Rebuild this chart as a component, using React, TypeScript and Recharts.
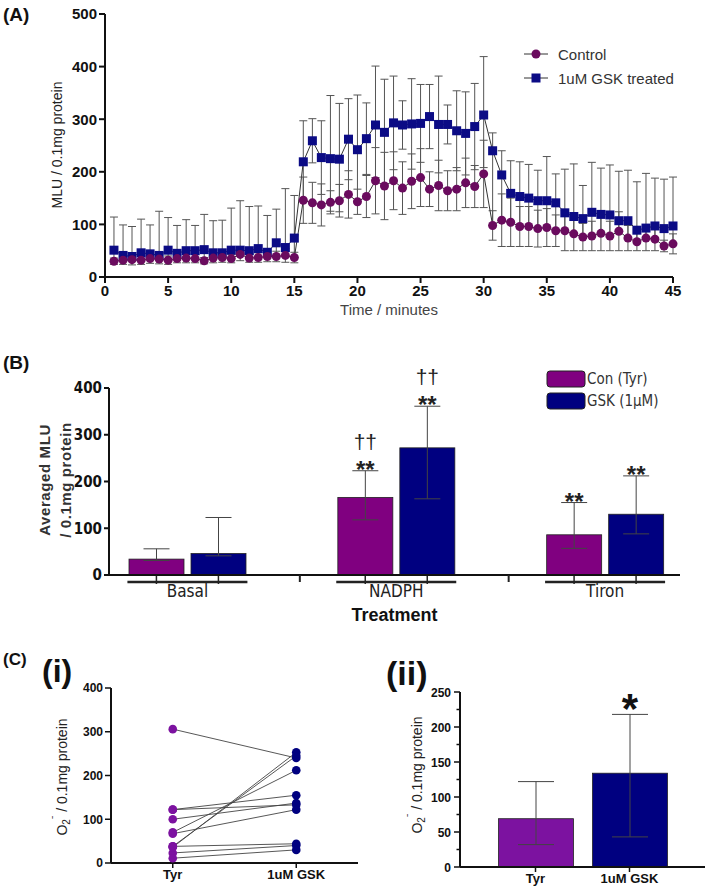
import React from 'react';
import { LineChart, Line, XAxis, YAxis, ErrorBar, Legend, BarChart, Bar } from 'recharts';

const SANS = "'Liberation Sans', Arial, Helvetica, sans-serif";
const NARROW = "'Liberation Sans Narrow', 'DejaVu Sans Condensed', 'Liberation Sans', Arial, sans-serif";

// ---------- Panel A data ----------
const timeMin = [0.71,1.43,2.14,2.86,3.57,4.29,5.00,5.71,6.43,7.14,7.86,8.57,9.29,10.00,10.71,11.43,12.14,12.86,13.57,14.29,15.00,
  15.71,16.43,17.14,17.86,18.57,19.29,20.00,20.71,21.43,22.14,22.86,23.57,24.29,25.00,25.71,26.43,27.14,27.86,28.57,29.29,30.00,
  30.71,31.43,32.14,32.86,33.57,34.29,35.00,35.71,36.43,37.14,37.86,38.57,39.29,40.00,40.71,41.43,42.14,42.86,43.57,44.29,45.00];
const controlMLU = [30,32,33,32,35,34,32,35,36,35,31,36,37,35,43,36,37,39,39,41,37,
  146,141,137,142,145,157,143,153,183,173,183,169,182,189,167,174,164,167,179,172,196,
  98,108,104,96,96,92,94,88,88,82,76,78,83,78,87,74,67,74,72,59,63];
const controlErr = [6,8,10,8,9,9,8,8,9,8,6,9,9,8,12,8,9,10,10,13,10,
  44,39,40,22,31,45,24,40,63,64,55,50,52,55,33,48,38,41,47,40,64,
  28,50,46,38,38,35,36,30,38,32,26,28,33,28,37,24,17,24,22,11,19];
const gskMLU = [51,41,39,46,44,41,51,45,50,50,52,46,46,51,51,50,54,47,65,56,74,
  219,259,227,225,224,262,242,263,289,275,293,289,291,292,305,290,290,278,273,286,308,
  240,194,159,153,150,145,145,141,122,115,111,123,119,118,107,107,89,93,97,92,97];
const gskErrHigh = [63,58,57,64,55,84,62,53,59,48,67,61,62,80,94,84,81,70,64,112,81,
  78,42,70,120,106,77,104,68,112,101,89,46,86,74,61,92,37,76,79,82,111,
  34,46,62,66,64,58,84,55,83,100,63,95,88,95,94,96,92,104,91,94,93];
const gskErrLow = [21,9,6,14,9,7,19,10,14,15,21,10,9,16,8,14,17,8,26,15,37,
  73,42,70,100,100,77,99,68,100,100,89,46,86,74,61,92,37,76,79,82,100,
  142,86,55,57,54,53,51,53,34,33,35,45,36,40,20,33,22,19,25,33,34];
const timeTicks = [0,5,10,15,20,25,30,35,40,45];
const mluTicks = [0,100,200,300,400,500];
const seriesNamesA = ['Control', '1uM GSK treated'];

// ---------- Panel B data ----------
const treatments = ['Basal', 'NADPH', 'Tiron'];
const conTyrMean = [34, 166, 86];
const conTyrErrLow = [3, 48, 29];
const conTyrErrHigh = [22, 57, 69];
const gskMean = [46, 272, 130];
const gskErrLowB = [5, 109, 42];
const gskErrHighB = [77, 89, 82];
const conStars = ['', '**', '**'];
const conDaggers = ['', '\u2020\u2020', ''];
const gskStars = ['', '**', '**'];
const gskDaggers = ['', '\u2020\u2020', ''];
const avgTicks = [0,100,200,300,400];
const seriesNamesB = ['Con (Tyr)', 'GSK (1\u00b5M)'];

// ---------- Panel C(i) data ----------
const pairGroups = ['Tyr', '1uM GSK'];
const pairTyr = [306, 38, 70, 122, 122, 100, 67, 38, 23, 11, 36];
const pairGsk = [240, 245, 212, 155, 133, 137, 122, 44, 40, 30, 253];
const pairTicks = [0,100,200,300,400];

// ---------- Panel C(ii) data ----------
const summaryGroups = ['Tyr', '1uM GSK'];
const summaryValue = [69, 134];
const summaryErrLow = [37, 91];
const summaryErrHigh = [53, 84];
const summaryMarks = ['', '*'];
const summaryTicks = [0,25,50,75,100,125,150,175,200,225,250];

// colours
const C_CONTROL = '#6a0b5e';
const C_GSK = '#0b0b85';
const C_PURPLE = '#800080';
const C_NAVY = '#000080';
const C_PURPLE2 = '#7c12a0';
const summaryFills = [C_PURPLE2, C_NAVY];

const timeData = timeMin.map((t, i) => ({
  t,
  control: controlMLU[i],
  controlErr: controlErr[i],
  gsk: gskMLU[i],
  gskErr: [gskErrLow[i], gskErrHigh[i]],
}));

const treatData = treatments.map((name, i) => ({
  name,
  con: conTyrMean[i],
  conErr: [conTyrErrLow[i], conTyrErrHigh[i]],
  conS: conStars[i],
  conD: conDaggers[i],
  conHi: conTyrErrHigh[i],
  gsk: gskMean[i],
  gskErr: [gskErrLowB[i], gskErrHighB[i]],
  gskS: gskStars[i],
  gskD: gskDaggers[i],
  gskHi: gskErrHighB[i],
}));

const pairData = pairGroups.map((g, gi) => {
  const row: any = { pos: gi + 1 };
  const src = gi === 0 ? pairTyr : pairGsk;
  src.forEach((v, i) => { row['p' + i] = v; });
  return row;
});

const summaryData = summaryGroups.map((name, i) => ({
  name,
  idx: i,
  value: summaryValue[i],
  err: [summaryErrLow[i], summaryErrHigh[i]],
  mark: summaryMarks[i],
  hi: summaryErrHigh[i],
}));

const axisStroke = { stroke: '#111', strokeWidth: 2 };

function LegendA() {
  return (
    <div style={{ fontFamily: SANS, fontSize: 15, color: '#333' }}>
      {seriesNamesA.map((n, i) => (
        <div key={n} style={{ display: 'flex', alignItems: 'center', height: 24 }}>
          <svg width={28} height={24} style={{ display: 'block' }}>
            <line x1={2} x2={26} y1={12} y2={12} stroke="#333" strokeWidth={1} />
            {i === 0 ? <circle cx={14} cy={12} r={4.5} fill={C_CONTROL} /> : <rect x={9.5} y={7.5} width={9} height={9} fill={C_GSK} />}
          </svg>
          <span style={{ marginLeft: 8, whiteSpace: 'nowrap' }}>{n}</span>
        </div>
      ))}
    </div>
  );
}

function LegendB() {
  return (
    <div style={{ fontFamily: NARROW, fontSize: 15, color: '#333' }}>
      {seriesNamesB.map((n, i) => (
        <div key={n} style={{ display: 'flex', alignItems: 'center', height: 22 }}>
          <svg width={40} height={22} style={{ display: 'block' }}>
            <rect x={1} y={3} width={38} height={16} rx={3} fill={i === 0 ? C_PURPLE : C_NAVY} stroke="#222" strokeWidth={1} />
          </svg>
          <span style={{ marginLeft: 1, whiteSpace: 'nowrap' }}>{n}</span>
        </div>
      ))}
    </div>
  );
}

function TreatTick(props: any) {
  const { x, y, payload, index } = props;
  const half = payload && payload.offset ? payload.offset : 104;
  return (
    <g>
      <line x1={x - 60} x2={x + 60} y1={y + 7} y2={y + 7} stroke="#222" strokeWidth={2.5} />
      <line x1={x - 31} x2={x - 31} y1={y + 1} y2={y + 9} stroke="#222" strokeWidth={1.5} />
      <line x1={x + 31} x2={x + 31} y1={y + 1} y2={y + 9} stroke="#222" strokeWidth={1.5} />
      {index < treatments.length - 1 ? (
        <line x1={x + half + 8} x2={x + half + 8} y1={y} y2={y + 7} stroke="#222" strokeWidth={2} />
      ) : null}
      <text x={x} y={y + 22} textAnchor="middle" fontFamily={NARROW} fontSize={17} fill="#222">{payload.value}</text>
    </g>
  );
}

const makeBarShape = (valKey: string, hiKey: string, sKey: string, dKey: string) => (p: any) => {
  const { x, y, width, height, fill, payload } = p;
  const v = payload[valKey];
  const ppu = v ? height / v : 0;
  const capY = y - payload[hiKey] * ppu;
  const cx = x + width / 2;
  return (
    <g>
      <rect x={x} y={y} width={width} height={height} fill={fill} stroke="#222" strokeWidth={0.8} />
      {payload[sKey] ? (
        <text x={cx} y={capY + 7} textAnchor="middle" fontFamily={SANS} fontWeight="bold" fontSize={24} fill="#222">{payload[sKey]}</text>
      ) : null}
      {payload[dKey] ? (
        <text x={cx} y={capY - 22} textAnchor="middle" fontFamily={SANS} fontSize={21} fill="#222">{payload[dKey]}</text>
      ) : null}
    </g>
  );
};

const summaryShape = (p: any) => {
  const { x, y, width, height, payload } = p;
  const ppu = payload.value ? height / payload.value : 0;
  const capY = y - payload.hi * ppu;
  return (
    <g>
      <rect x={x} y={y} width={width} height={height} fill={summaryFills[payload.idx]} stroke="#222" strokeWidth={0.8} />
      {payload.mark ? (
        <text x={x + width / 2} y={capY + 9} textAnchor="middle" fontFamily={SANS} fontWeight="bold" fontSize={42} fill="#111">{payload.mark}</text>
      ) : null}
    </g>
  );
};

function SummaryYTick(props: any) {
  const { x, y, payload } = props;
  const major = payload.value % 50 === 0;
  return (
    <g>
      <line x1={x} x2={x - (major ? 6 : 3.5)} y1={y} y2={y} stroke="#111" strokeWidth={1.5} />
      {major ? (
        <text x={x - 9} y={y} dy={4.5} textAnchor="end" fontFamily={SANS} fontWeight="bold" fontSize={12} fill="#111">{payload.value}</text>
      ) : null}
    </g>
  );
}

const pairDot = (key: string) => (p: any) => {
  const { cx, cy, payload, index } = p;
  if (cx == null || cy == null) return <g key={key + '-' + index} />;
  return <circle key={key + '-' + index} cx={cx} cy={cy} r={4.3} fill={payload.pos === 1 ? C_PURPLE2 : C_NAVY} />;
};

export default function App() {
  return (
    <div style={{ position: 'absolute', left: 0, top: 0, width: 709, height: 893, background: '#fff', overflow: 'hidden' }}>
      {/* Panel A */}
      <div style={{ position: 'absolute', left: 0, top: 0 }}>
        <LineChart width={709} height={325} data={timeData} margin={{ top: 14, right: 36, bottom: 3, left: 45 }}>
          <XAxis type="number" dataKey="t" domain={[0, 45]} ticks={timeTicks} interval={0} height={45}
            axisLine={axisStroke} tickLine={axisStroke} tickSize={6}
            tick={{ fill: '#111', fontSize: 15, fontWeight: 'bold', fontFamily: SANS }}
            label={{ value: 'Time / minutes', position: 'insideBottom', offset: 7, fill: '#444', fontSize: 15, fontFamily: SANS }} />
          <YAxis type="number" domain={[0, 500]} ticks={mluTicks} interval={0} width={60}
            axisLine={axisStroke} tickLine={axisStroke} tickSize={6}
            tick={{ fill: '#111', fontSize: 15, fontWeight: 'bold', fontFamily: SANS }} />
          <Line type="linear" dataKey="gsk" name={seriesNamesA[1]} stroke="#333" strokeWidth={1} isAnimationActive={false}
            dot={(p: any) => <rect key={'g' + p.index} x={p.cx - 4.5} y={p.cy - 4.5} width={9} height={9} fill={C_GSK} />}>
            <ErrorBar dataKey="gskErr" width={4} stroke="#555" strokeWidth={1} direction="y" />
          </Line>
          <Line type="linear" dataKey="control" name={seriesNamesA[0]} stroke="#333" strokeWidth={1} isAnimationActive={false}
            dot={(p: any) => <circle key={'c' + p.index} cx={p.cx} cy={p.cy} r={4.5} fill={C_CONTROL} />}>
            <ErrorBar dataKey="controlErr" width={4} stroke="#555" strokeWidth={1} direction="y" />
          </Line>
          <Legend layout="vertical" align="center" verticalAlign="middle" content={() => <LegendA />}
            wrapperStyle={{ left: 522, top: 42, width: 187, height: 48 }} />
        </LineChart>
      </div>

      {/* Panel B */}
      <div style={{ position: 'absolute', left: 0, top: 340 }}>
        <BarChart width={709} height={290} data={treatData} margin={{ top: 48, right: 29, bottom: 5, left: 59 }} barSize={55} barGap={7}>
          <XAxis dataKey="name" padding={{ left: -26, right: -29.5 }} height={50} tickSize={0} tickMargin={0} tickLine={false}
            axisLine={axisStroke} tick={<TreatTick />} interval={0}
            label={{ value: 'Treatment', position: 'insideBottom', offset: 4, fill: '#111', fontSize: 18, fontWeight: 'bold', fontFamily: SANS }} />
          <YAxis type="number" domain={[0, 400]} ticks={avgTicks} interval={0} width={50}
            axisLine={axisStroke} tickLine={axisStroke} tickSize={5}
            tick={{ fill: '#111', fontSize: 15, fontWeight: 'bold', fontFamily: NARROW }} />
          <Bar dataKey="con" name={seriesNamesB[0]} fill={C_PURPLE} isAnimationActive={false} shape={makeBarShape('con', 'conHi', 'conS', 'conD')}>
            <ErrorBar dataKey="conErr" width={13} stroke="#444" strokeWidth={1} direction="y" />
          </Bar>
          <Bar dataKey="gsk" name={seriesNamesB[1]} fill={C_NAVY} isAnimationActive={false} shape={makeBarShape('gsk', 'gskHi', 'gskS', 'gskD')}>
            <ErrorBar dataKey="gskErr" width={13} stroke="#444" strokeWidth={1} direction="y" />
          </Bar>
          <Legend layout="vertical" align="center" verticalAlign="middle" content={() => <LegendB />}
            wrapperStyle={{ left: 546, top: 28, width: 160, height: 44 }} />
        </BarChart>
      </div>

      {/* Panel C(i) */}
      <div style={{ position: 'absolute', left: 0, top: 640 }}>
        <LineChart width={370} height={253} data={pairData} margin={{ top: 48, right: 12, bottom: 2, left: 61 }}>
          <XAxis type="number" dataKey="pos" domain={[0.5, 2.5]} ticks={[1, 2]} interval={0} height={28}
            tickFormatter={(v: number) => pairGroups[v - 1]}
            axisLine={axisStroke} tickLine={{ stroke: '#111', strokeWidth: 1.5 }} tickSize={5}
            tick={{ fill: '#111', fontSize: 13, fontWeight: 'bold', fontFamily: SANS }} />
          <YAxis type="number" domain={[0, 400]} ticks={pairTicks} interval={0} width={50}
            axisLine={axisStroke} tickLine={{ stroke: '#111', strokeWidth: 1.5 }} tickSize={6}
            tick={{ fill: '#111', fontSize: 12, fontWeight: 'bold', fontFamily: SANS }} />
          {pairTyr.map((_, i) => (
            <Line key={'p' + i} type="linear" dataKey={'p' + i} stroke="#444" strokeWidth={0.9}
              isAnimationActive={false} dot={pairDot('p' + i)} />
          ))}
        </LineChart>
      </div>

      {/* Panel C(ii) */}
      <div style={{ position: 'absolute', left: 360, top: 640 }}>
        <BarChart width={349} height={253} data={summaryData} margin={{ top: 52, right: 4, bottom: 2, left: 50 }} barSize={75}>
          <XAxis dataKey="name" padding={{ left: 28.5, right: 28.5 }} height={24} interval={0}
            axisLine={axisStroke} tickLine={{ stroke: '#111', strokeWidth: 1.5 }} tickSize={5}
            tick={{ fill: '#111', fontSize: 13, fontWeight: 'bold', fontFamily: SANS }} />
          <YAxis type="number" domain={[0, 250]} ticks={summaryTicks} interval={0} width={50}
            axisLine={axisStroke} tickLine={false} tickSize={0} tickMargin={0} tick={<SummaryYTick />} />
          <Bar dataKey="value" isAnimationActive={false} shape={summaryShape} fill={C_PURPLE2}>
            <ErrorBar dataKey="err" width={18} stroke="#444" strokeWidth={1} direction="y" />
          </Bar>
        </BarChart>
      </div>

      {/* Free text: panel letters and axis titles */}
      <svg width={709} height={893} style={{ position: 'absolute', left: 0, top: 0, pointerEvents: 'none' }}>
        <text x={3} y={21} fontFamily={SANS} fontWeight="bold" fontSize={19} fill="#111">(A)</text>
        <text transform="translate(57,145) rotate(-90)" textAnchor="middle" dominantBaseline="central" fontFamily={SANS} fontSize={14} fill="#222">MLU / 0.1mg protein</text>

        <text x={3} y={369} fontFamily={SANS} fontWeight="bold" fontSize={19} fill="#111">(B)</text>
        <text transform="translate(44,480) rotate(-90)" textAnchor="middle" dominantBaseline="central" fontFamily={SANS} fontWeight="bold" fontSize={15} fill="#333" letterSpacing={0.6}>Averaged MLU</text>
        <text transform="translate(65,480) rotate(-90)" textAnchor="middle" dominantBaseline="central" fontFamily={SANS} fontWeight="bold" fontSize={15} fill="#333" letterSpacing={0.6}>/ 0.1mg protein</text>

        <text x={3} y={665} fontFamily={SANS} fontWeight="bold" fontSize={17} fill="#111">(C)</text>
        <text x={42} y={682} fontFamily={SANS} fontWeight="bold" fontSize={32} fill="#111">(i)</text>
        <text x={386} y={685} fontFamily={SANS} fontWeight="bold" fontSize={34} fill="#111">(ii)</text>

        <text transform="translate(62,777) rotate(-90)" textAnchor="middle" dominantBaseline="central" fontFamily={SANS} fontSize={14} fill="#222">
          O<tspan dy={4} fontSize={10}>2</tspan><tspan dy={-10} fontSize={10}>{'\u02c9'}</tspan><tspan dy={6}> / 0.1mg protein</tspan>
        </text>
        <text transform="translate(417,775) rotate(-90)" textAnchor="middle" dominantBaseline="central" fontFamily={SANS} fontSize={14} fill="#222">
          O<tspan dy={4} fontSize={10}>2</tspan><tspan dy={-10} fontSize={10}>{'\u02c9'}</tspan><tspan dy={6}> / 0.1mg protein</tspan>
        </text>
      </svg>
    </div>
  );
}
